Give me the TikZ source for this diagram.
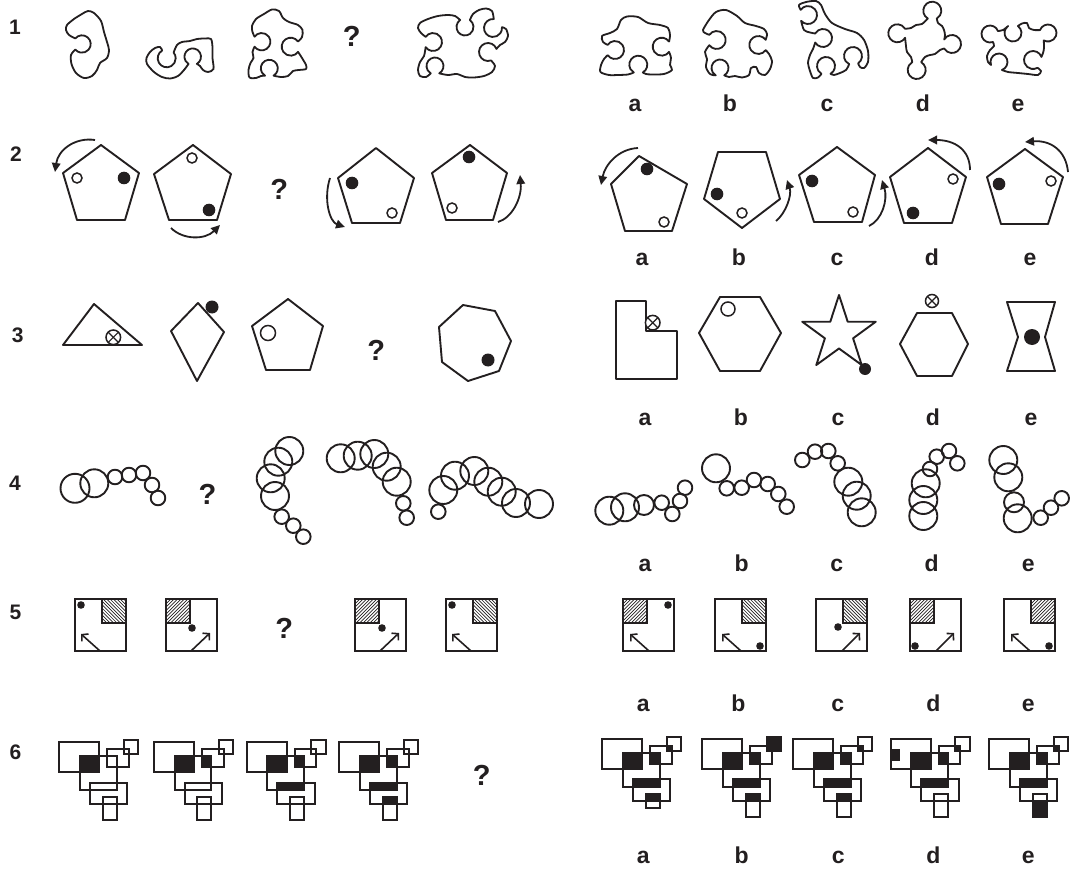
\documentclass[tikz,border=0pt]{standalone}
\usepackage{fontspec}
\setmainfont{Liberation Sans}
\usetikzlibrary{arrows.meta}
\definecolor{ink}{HTML}{231F20}
\tikzset{
 shp/.style={draw=ink, line width=1.9pt, line join=round},
 blob/.style={draw=ink, line width=1.8pt, line join=round},
 dotc/.style={draw=ink, line width=1.5pt, fill=white},
 rarrow/.style={draw=ink, line width=1.8pt, -{Triangle[length=9pt,width=8.5pt]}},
 sq/.style={draw=ink, line width=2pt},
 hatchln/.style={draw=ink, line width=0.7pt},
 varrow/.style={draw=ink, line width=1.6pt, -{Straight Barb[length=4.5pt,width=10pt]}},
 rect/.style={draw=ink, line width=2.1pt},
 numtxt/.style={font=\fontsize{21}{21}\selectfont\bfseries, text=ink, inner sep=0pt},
 lbl/.style={font=\fontsize{23}{23}\selectfont\bfseries, text=ink, inner sep=0pt, anchor=base},
 qm/.style={font=\fontsize{29}{29}\selectfont\bfseries, text=ink, inner sep=0pt},
}
\newcommand\hatchNE[4]{%
 \begin{scope}\clip (#1,#2) rectangle (#3,#4);
 \foreach \k in {0,...,15}{\draw[hatchln] ({#1-26+\k*3.4},{#4}) -- ++(28,-28);}
 \end{scope}\draw[sq] (#1,#2) rectangle (#3,#4);}
\newcommand\hatchNW[4]{%
 \begin{scope}\clip (#1,#2) rectangle (#3,#4);
 \foreach \k in {0,...,15}{\draw[hatchln] ({#1-26+\k*3.4},{#2}) -- ++(28,28);}
 \end{scope}\draw[sq] (#1,#2) rectangle (#3,#4);}
\newcommand\cirx[3]{%
 \draw[dotc] (#1,#2) circle[radius=#3];
 \draw[ink,line width=1.2pt] ({#1-0.707*#3},{#2-0.707*#3}) -- ({#1+0.707*#3},{#2+0.707*#3});
 \draw[ink,line width=1.2pt] ({#1-0.707*#3},{#2+0.707*#3}) -- ({#1+0.707*#3},{#2-0.707*#3});}
\newcommand\sixout[1]{%
 \draw[rect] (0,0) rectangle (40,30);
 \draw[rect] (20.7,13.7) rectangle (57.3,47.7);
 \draw[rect] (48,6.7) rectangle (69.7,25);
 \draw[rect] (64.7,-2.3) rectangle (79,12);
 \draw[rect] (30.7,40.3) rectangle (68,62);
 \draw[rect] (43.3,55) rectangle (57.3,#1);}
\newcommand\fAE{\fill[ink] (20.7,13.7) rectangle (40,30);}
\newcommand\fEC{\fill[ink] (48,13.7) rectangle (57.3,25);}
\newcommand\fCD{\fill[ink] (64.7,6.7) rectangle (69.7,12);}
\newcommand\fD{\fill[ink] (64.7,-2.3) rectangle (79,12);}
\newcommand\fEF{\fill[ink] (30.7,40.3) rectangle (57.3,47.7);}
\newcommand\fFG{\fill[ink] (43.3,55) rectangle (57.3,62);}
\newcommand\fGlow{\fill[ink] (43.3,62) rectangle (57.3,77.7);}
\begin{document}
\begin{tikzpicture}[x=1pt,y=-1pt]
\useasboundingbox (0,0) rectangle (1090,869);
\fill[white] (0,0) rectangle (1090,869);

% ---------- numbers and question marks
\node[numtxt] (n1) at (15,27.5) {1};
\node[numtxt] (n2) at (16,153.8) {2};
\node[numtxt] (n3) at (17.8,335) {3};
\node[numtxt] (n4) at (15,483.7) {4};
\node[numtxt] (n5) at (15.5,612) {5};
\node[numtxt] (n6) at (15.5,752.5) {6};
\node[qm] (q1) at (351.7,36.7) {?};
\node[qm] (q2) at (279.3,189.2) {?};
\node[qm] (q3) at (376.3,350.8) {?};
\node[qm] (q4) at (207.5,494.5) {?};
\node[qm] (q5) at (284.2,628.3) {?};
\node[qm] (q6) at (481.7,775.8) {?};

% ---------- labels
\foreach \r/\yy/\xa/\xb/\xc/\xd/\xe in {1/111.7/635/730/827/923/1018, 2/265.5/642/739/837/932/1030, 3/425/645/741/838/933/1031, 4/571.7/645/741.7/836.7/931.7/1028.3, 5/711.7/643.3/738.3/837.7/933.3/1028.3, 6/863.3/643.3/741.7/838.3/933.3/1028.3}{
 \node[lbl] (l\r a) at (\xa,\yy) {a};
 \node[lbl] (l\r b) at (\xb,\yy) {b};
 \node[lbl] (l\r c) at (\xc,\yy) {c};
 \node[lbl] (l\r d) at (\xd,\yy) {d};
 \node[lbl] (l\r e) at (\xe,\yy) {e};
}

% ---------- row 1 blobs
\draw[blob] (75.34,38.41) arc[start angle=220,end angle=500,radius=8.7] -- plot[smooth] coordinates {(75.34,49.59) (71,55) (71.5,64) (76,73) (84,78) (92,76) (97,70) (100,63) (107,58) (109,50) (107,42) (104,32) (101,21) (94,13) (88,11) (82,14) (74,19) (67,25) (66,30) (69,35) (75.34,38.41)} -- cycle;

\draw[blob] (162.2,50.5) arc[start angle=240,end angle=-40,radius=9] -- plot[smooth] coordinates {(173.6,52.5) (177,45) (182,42) (190,41) (197,39) (205,38.5) (211,39) (212.5,47) (212.5,58) (213.5,69) (208,72) (203,70) (200,66) (196.85,63.9)} arc[start angle=60,end angle=-240,radius=8.3] -- plot[smooth] coordinates {(188.55,63.9) (184,70) (178,76) (170,78.5) (162,77) (154,72) (147,64) (146.5,58) (150,52) (155,48) (160,47) (162.2,50.5)} -- cycle;

\draw[blob] (298.07,41.54) arc[start angle=-35,end angle=-325,radius=9] -- plot[smooth] coordinates {(298.07,51.86) (302,58) (306,65) (306,69) (299,70) (293,71) (288,76) (281,77) (273.55,75.66)} arc[start angle=60,end angle=-240,radius=8.5] -- plot[smooth] coordinates {(265.05,75.66) (261,76) (256,78) (249.5,77.5) (248.5,70) (250.5,63) (253.5,58) (252.5,52) (254.57,46.69)} arc[start angle=145,end angle=-145,radius=8.7] -- plot[smooth] coordinates {(254.57,36.71) (252.5,32) (252,26) (256,19) (264,14) (272,9.5) (279,11) (283,18) (289,22) (298,25) (302.5,30) (302,37) (298.07,41.54)} -- cycle;

\draw[blob] (460.12,20.04) arc[start angle=235,end angle=-55,radius=8.5] -- plot[smooth] coordinates {(469.88,20.04) (473,14) (479,10) (486,8.5) (492,11) (493.78,19.03)} arc[start angle=-85,end angle=-365,radius=9] -- plot[smooth] coordinates {(501.97,27.22) (506,29) (508,36) (505,42) (500,45) (496.46,48.92)} arc[start angle=-20,end angle=-290,radius=9] -- plot[smooth] coordinates {(491.08,60.46) (495,66) (492,72) (484,76) (474,77.5) (465,77) (457,74) (448,75) (439.25,73.36)} arc[start angle=60,end angle=-240,radius=8.5] -- plot[smooth] coordinates {(430.75,73.36) (426,77) (420,76) (418,70) (420,62) (424,56) (425.63,47.16)} arc[start angle=145,end angle=-145,radius=9] -- plot[smooth] coordinates {(425.63,36.84) (421,33) (418,28) (420,23) (428,19) (438,16) (448,15) (455,16) (460.12,20.04)} -- cycle;

% options row 1
\draw[blob] (669.07,41.54) arc[start angle=-35,end angle=-325,radius=9] -- plot[smooth] coordinates {(669.07,51.86) (671,58) (670,65) (672,70) (664,74) (652,74.5) (646,74) (642.8,72.49)} arc[start angle=60,end angle=-240,radius=9] -- plot[smooth] coordinates {(633.8,72.49) (628,74.5) (618,75) (609,75) (600.5,72) (601,65) (604,59) (607.63,55.16)} arc[start angle=145,end angle=-145,radius=9] -- plot[smooth] coordinates {(607.63,44.84) (603,42) (602,36) (610,33) (617,29) (621,20) (627,16.5) (638,17) (648,23) (660,25) (668,28) (670,35) (669.07,41.54)} -- cycle;

\draw[blob] (765.67,39.84) arc[start angle=-35,end angle=-325,radius=9] -- plot[smooth] coordinates {(765.67,50.16) (769,54) (772,61) (770,69) (765,75) (759,73) (756,67) (751,68) (749,75) (742,77.5) (735,76) (729,77) (724.25,75.36)} arc[start angle=60,end angle=-240,radius=8.5] -- plot[smooth] coordinates {(715.75,75.36) (710,74) (706,67) (707,59) (705,52) (709.33,45.16)} arc[start angle=145,end angle=-145,radius=9] -- plot[smooth] coordinates {(709.33,34.84) (705,33) (703,30) (709,20) (716,12) (726,10) (737,16) (745,23) (756,26) (764,29) (767,34) (765.67,39.84)} -- cycle;

\draw[blob] plot[smooth] coordinates {(800.63,9.84) (799,5) (806,2) (816,1) (821,5) (825,14) (832,23) (845,29) (857,33) (864,40) (868,51) (868,62) (864,68) (860,67) (858.16,63.37)} arc[start angle=55,end angle=-245,radius=9] -- plot[smooth] coordinates {(849.2,64.16) (846,70) (840,73) (834,75) (830.5,73.79)} arc[start angle=60,end angle=-240,radius=9] -- plot[smooth] coordinates {(821.5,73.79) (818,77.5) (813,78) (810,71) (808,63) (810,55) (813,49) (815.21,42.5)} arc[start angle=150,end angle=-150,radius=9] -- plot[smooth] coordinates {(815.21,33.5) (810,32.5) (804,30) (801.11,20.79)} arc[start angle=140,end angle=-145,radius=9] -- cycle;

\draw[blob] (927.8,18.49) arc[start angle=120,end angle=420,radius=9] -- plot[smooth] coordinates {(936.8,18.49) (938,23) (942,26) (944,30) (945,35) (944.21,39.5)} arc[start angle=210,end angle=510,radius=9] -- plot[smooth] coordinates {(944.21,48.5) (940,50) (935,54) (930,55) (925,57) (921.2,62.21)} arc[start angle=-60,end angle=240,radius=9] -- plot[smooth] coordinates {(912.2,62.21) (911,57) (907,52) (906,46) (905.09,37.8)} arc[start angle=30,end angle=330,radius=9] -- plot[smooth] coordinates {(905.09,28.8) (911,28) (916,25) (922,24) (927.8,18.49)} -- cycle;

\draw[blob] (992.91,41.99) arc[start angle=70,end angle=340,radius=8.5] -- plot[smooth] coordinates {(997.99,31.09) (1003,30) (1008.12,26.04)} arc[start angle=235,end angle=-55,radius=8.5] -- plot[smooth] coordinates {(1017.88,26.04) (1022,23.5) (1027,23) (1029,28) (1034,30) (1040.01,30.09)} arc[start angle=200,end angle=480,radius=8.5] -- plot[smooth] coordinates {(1043.75,40.36) (1044,48) (1043,53) (1041.46,56.92)} arc[start angle=-20,end angle=-300,radius=9] -- plot[smooth] coordinates {(1037.5,67.79) (1041,71) (1038,75) (1028,74) (1018,73) (1008,72) (1001.91,69.99)} arc[start angle=70,end angle=-200,radius=8.5] -- plot[smooth] coordinates {(991.01,64.91) (988,62) (987,56) (990,50) (994,46) (992.91,41.99)} -- cycle;

% ---------- row 2 pentagons
\draw[shp] (101,145) -- (139,173) -- (125,220) -- (77,220) -- (63,173) -- cycle;
\draw[dotc] (77,178) circle[radius=5]; \fill[ink] (124,178) circle[radius=6.3];
\draw[shp] (193,145) -- (231,174) -- (217,220) -- (169,220) -- (154,174) -- cycle;
\draw[dotc] (192,158) circle[radius=5]; \fill[ink] (209,210) circle[radius=6.3];
\draw[shp] (376,148) -- (414,178) -- (400,223) -- (352,223) -- (338,178) -- cycle;
\fill[ink] (352,183) circle[radius=6.3]; \draw[dotc] (392,213) circle[radius=5];
\draw[shp] (470,145) -- (507,173) -- (493,220) -- (446,220) -- (432,173) -- cycle;
\fill[ink] (469,157) circle[radius=6.3]; \draw[dotc] (452,208) circle[radius=5];
\draw[shp] (639,156) -- (687,184) -- (672,231) -- (625,231) -- (611,184) -- cycle;
\fill[ink] (647,169) circle[radius=6.3]; \draw[dotc] (664,222) circle[radius=5];
\draw[shp] (718,152) -- (766,152) -- (780,199) -- (742,228) -- (704,199) -- cycle;
\fill[ink] (717,194) circle[radius=6.3]; \draw[dotc] (742,213) circle[radius=5];
\draw[shp] (837,147) -- (875,175) -- (862,222) -- (814,222) -- (799,175) -- cycle;
\fill[ink] (812,181) circle[radius=6.3]; \draw[dotc] (853,212) circle[radius=5];
\draw[shp] (928,148) -- (966,177) -- (952,223) -- (904,223) -- (890,177) -- cycle;
\draw[dotc] (953,179) circle[radius=5]; \fill[ink] (913,213) circle[radius=6.3];
\draw[shp] (1025,149) -- (1063,177) -- (1048,224) -- (1001,224) -- (987,177) -- cycle;
\fill[ink] (999,184) circle[radius=6.3]; \draw[dotc] (1051,181) circle[radius=5];
\draw[rarrow] (95,140) .. controls (75,137) and (58,150) .. (55,172);
\draw[rarrow] (171,228) .. controls (183,240) and (205,240) .. (220,225);
\draw[rarrow] (330,178) .. controls (323,200) and (330,222) .. (345,227);
\draw[rarrow] (498,222) .. controls (512,218) and (522,198) .. (520,175);
\draw[rarrow] (638,148) .. controls (618,149) and (605,165) .. (601,185);
\draw[rarrow] (776,221) .. controls (786,213) and (792,195) .. (787,180);
\draw[rarrow] (869,226) .. controls (882,220) and (888,200) .. (882,180);
\draw[rarrow] (970,170) .. controls (970,150) and (955,140) .. (928,140);
\draw[rarrow] (1068,172) .. controls (1066,150) and (1050,140) .. (1025,142);

% ---------- row 3
\draw[shp] (63,345) -- (94,304) -- (142,345) -- cycle; \cirx{113.3}{337.3}{7.3}
\draw[shp] (198,303) -- (224,332) -- (197,381) -- (171,331) -- cycle; \fill[ink] (212,307) circle[radius=6.5];
\draw[shp] (288,299) -- (323,326) -- (310,370) -- (266,370) -- (252,326) -- cycle; \draw[dotc] (268,333) circle[radius=7.5];
\draw[shp] (463,305) -- (495,311) -- (511,341) -- (499,371) -- (468,381) -- (442,362) -- (439,327) -- cycle; \fill[ink] (488,360) circle[radius=6.5];
\draw[shp] (616,301) -- (646,301) -- (646,331) -- (677,331) -- (677,379) -- (616,379) -- cycle; \cirx{652.7}{322.7}{7.3}
\draw[shp] (720,297) -- (760,297) -- (781,333) -- (760,371) -- (720,371) -- (699,333) -- cycle; \draw[dotc] (728,309) circle[radius=7];
\draw[shp] (839,295) -- (847.7,321.7) -- (875.8,321.7) -- (853.1,338.3) -- (861.7,365) -- (839,348.5) -- (816.3,365) -- (824.9,338.3) -- (802.2,321.7) -- (830.3,321.7) -- cycle; \fill[ink] (865,369) circle[radius=6];
\draw[shp] (917,313) -- (952,313) -- (968,344) -- (952,376) -- (917,376) -- (900,344) -- cycle; \cirx{932}{301}{6.5}
\draw[shp] (1007,302) -- (1055,302) -- (1045,337) -- (1055,371) -- (1007,371) -- (1018,337) -- cycle; \fill[ink] (1032,337) circle[radius=8];

% ---------- row 4 circles
\foreach \x/\y/\r in {75/488.3/14.5, 94.3/483.3/14, 115/477/7.3, 129/475/7.3, 143/473/7.3, 152/485/7.3, 158/498/7.3,
 289.3/451/14, 278.3/461.7/14, 270.7/478.3/14, 275/496/14, 281.7/516.7/7.3, 293.3/525.7/7.3, 303.3/536.7/7.3,
 340.7/458.3/14, 357.7/455.7/14, 374.3/454/14, 386.7/466.7/14, 396.7/481.7/14, 403.3/503.3/7.3, 406.7/517.7/7.3,
 443.3/490/14, 455/475.7/14, 474.3/471/14, 488.3/481.7/14, 501.7/491.7/14, 516/503/14, 539/504/14, 438.3/511.7/7.3,
 609.3/510.7/14, 625/507.3/14, 644/505/10, 661.7/502.7/7.3, 672.3/514/7.3, 680/501/7.3, 685/487.7/7.3,
 716/468.3/14, 726.7/488.3/7.3, 741.7/487.7/7.3, 754/480/7.3, 767.7/484/7.3, 778.3/494/7.3, 786.7/506.7/7.3,
 802.3/460/7.3, 815/451.7/7.3, 828.3/451/7.3, 837.7/463.3/7.3, 848.3/481.7/14, 856.7/495.7/14, 861.7/512.3/14,
 923.3/516/14, 923.3/500/14, 925.7/483.3/14, 930/469/7.3, 936.7/456.7/7.3, 949/451/7.3, 957.3/463.3/7.3,
 1003.3/460/14, 1008.3/477.3/14, 1014/502.3/10, 1017.7/518.3/14, 1040.7/517.7/7.3, 1051/507.7/7.3, 1061.7/498.3/7.3}
 {\draw[shp] (\x,\y) circle[radius=\r];}

% ---------- row 5 squares
\begin{scope}[shift={(75,599)}]
 \hatchNW{27}{0}{51}{24} \draw[sq] (0,0) rectangle (51,52);
 \fill[ink] (6,6) circle[radius=3.8]; \draw[varrow] (25,52) -- (6,35);
\end{scope}
\begin{scope}[shift={(166,599)}]
 \hatchNE{0}{0}{24}{24} \draw[sq] (0,0) rectangle (51,52);
 \fill[ink] (26,29) circle[radius=3.8]; \draw[varrow] (25,52) -- (44,34);
\end{scope}
\begin{scope}[shift={(355,599)}]
 \hatchNE{0}{0}{24}{24} \draw[sq] (0,0) rectangle (51,52);
 \fill[ink] (27,29) circle[radius=3.8]; \draw[varrow] (25,52) -- (44,34);
\end{scope}
\begin{scope}[shift={(446,599)}]
 \hatchNW{27}{0}{51}{24} \draw[sq] (0,0) rectangle (51,52);
 \fill[ink] (6,6) circle[radius=3.8]; \draw[varrow] (25,52) -- (6,35);
\end{scope}
\begin{scope}[shift={(623,599)}]
 \hatchNE{0}{0}{24}{24} \draw[sq] (0,0) rectangle (51,52);
 \fill[ink] (45,6) circle[radius=3.8]; \draw[varrow] (26,52) -- (7,35);
\end{scope}
\begin{scope}[shift={(715,599)}]
 \hatchNW{27}{0}{51}{24} \draw[sq] (0,0) rectangle (51,52);
 \fill[ink] (45,47) circle[radius=3.8]; \draw[varrow] (26,52) -- (7,35);
\end{scope}
\begin{scope}[shift={(816,599)}]
 \hatchNW{27}{0}{51}{24} \draw[sq] (0,0) rectangle (51,52);
 \fill[ink] (22,28) circle[radius=3.8]; \draw[varrow] (26,52) -- (44,34);
\end{scope}
\begin{scope}[shift={(910,599)}]
 \hatchNE{0}{0}{24}{24} \draw[sq] (0,0) rectangle (51,52);
 \fill[ink] (5,47) circle[radius=3.8]; \draw[varrow] (26,52) -- (44,34);
\end{scope}
\begin{scope}[shift={(1004,599)}]
 \hatchNE{27}{0}{51}{24} \draw[sq] (0,0) rectangle (51,52);
 \fill[ink] (45,47) circle[radius=3.8]; \draw[varrow] (26,52) -- (7,35);
\end{scope}

% ---------- row 6
\begin{scope}[shift={(59.3,742.3)}] \fAE \sixout{77.7} \end{scope}
\begin{scope}[shift={(154,742.3)}] \fAE \fEC \sixout{77.7} \end{scope}
\begin{scope}[shift={(246.7,742.3)}] \fAE \fEC \fEF \sixout{77.7} \end{scope}
\begin{scope}[shift={(339.3,742.3)}] \fAE \fEC \fEF \fFG \sixout{77.7} \end{scope}
\begin{scope}[shift={(602.3,739)}] \fAE \fEC \fCD \fEF \fFG \sixout{69.3} \end{scope}
\begin{scope}[shift={(702.3,739)}] \fAE \fEC \fD \fEF \fFG \sixout{77.7} \end{scope}
\begin{scope}[shift={(793.3,739)}] \fAE \fEC \fCD \fEF \fFG \sixout{77.7} \end{scope}
\begin{scope}[shift={(890.7,739)}] \fAE \fEC \fCD \fEF \fill[ink] (0,10.3) rectangle (9.3,21.7); \sixout{77.7} \end{scope}
\begin{scope}[shift={(989.3,739)}] \fAE \fEC \fCD \fEF \fGlow \sixout{77.7} \end{scope}
\end{tikzpicture}
\end{document}
